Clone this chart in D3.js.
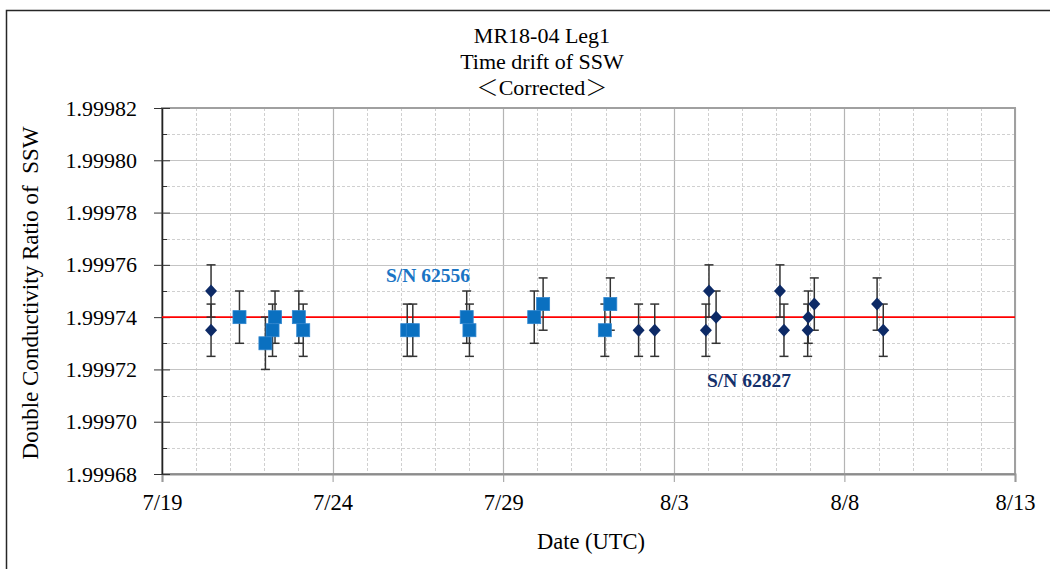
<!DOCTYPE html>
<html>
<head>
<meta charset="utf-8">
<script src="https://cdn.jsdelivr.net/npm/d3@7"></script>
<style>
  html, body { margin: 0; padding: 0; background: #fff; }
  svg { display: block; font-family: "Liberation Serif", "Times New Roman", serif; }
</style>
</head>
<body>
<div id="chart"></div>
<script>
// S/N 62556 (squares)
var sn62556Times = ['07-21 06:30', '07-22 00:45', '07-22 05:45', '07-22 07:30', '07-23 00:15', '07-23 03:20',
  '07-26 04:30', '07-26 08:25', '07-27 22:20', '07-28 00:15', '07-29 21:50', '07-30 04:05',
  '07-31 23:30', '08-01 03:20'];
var sn62556Values = [1.99974, 1.99973, 1.999735, 1.99974, 1.99974, 1.999735,
  1.999735, 1.999735, 1.99974, 1.999735, 1.99974, 1.999745,
  1.999735, 1.999745];
var sn62556Errors = [0.00001, 0.00001, 0.00001, 0.00001, 0.00001, 0.00001,
  0.00001, 0.00001, 0.00001, 0.00001, 0.00001, 0.00001,
  0.00001, 0.00001];

// S/N 62827 (diamonds)
var sn62827Times = ['07-20 10:30', '07-20 10:30', '08-01 23:15', '08-02 10:35', '08-03 22:35', '08-04 00:45',
  '08-04 05:45', '08-06 02:40', '08-06 05:30', '08-06 22:10', '08-06 22:35', '08-07 02:50',
  '08-08 23:00', '08-09 03:20'];
var sn62827Values = [1.99975, 1.999735, 1.999735, 1.999735, 1.999735, 1.99975,
  1.99974, 1.99975, 1.999735, 1.999735, 1.99974, 1.999745,
  1.999745, 1.999735];
var sn62827Errors = [0.00001, 0.00001, 0.00001, 0.00001, 0.00001, 0.00001,
  0.00001, 0.00001, 0.00001, 0.00001, 0.00001, 0.00001,
  0.00001, 0.00001];

var referenceValue = 1.99974;
var xDomain = ['07-19 00:00', '08-13 00:00'];
var yDomain = [1.99968, 1.99982];
var yMajorTicks = [1.99968, 1.99970, 1.99972, 1.99974, 1.99976, 1.99978, 1.99980, 1.99982];
var titleLines = ['MR18-04 Leg1', 'Time drift of SSW', '\uFF1CCorrected\uFF1E'];

var parse = function(s) { return d3.timeParse('%Y-%m-%d %H:%M')('2018-' + s); };

var W = 1050, H = 569;
var plotLeft = 162, plotRight = 1015, plotTop = 108, plotBottom = 474;

var svg = d3.select('#chart').append('svg')
  .attr('width', W)
  .attr('height', H);

// outer frame
svg.append('rect')
  .attr('x', 6.5).attr('y', 10.5)
  .attr('width', 1060).attr('height', 600)
  .style('fill', '#fff')
  .style('stroke', '#262626')
  .style('stroke-width', 1.5);

var x = d3.scaleTime().domain(xDomain.map(parse)).range([plotLeft, plotRight]);
var y = d3.scaleLinear().domain(yDomain).range([plotBottom, plotTop]);

var days = d3.timeDay.range(x.domain()[0], d3.timeDay.offset(x.domain()[1], 1));
var majorDays = days.filter(function(d, i) { return i % 5 == 0; });
var minorDays = days.filter(function(d, i) { return i % 5 != 0; });
var yMinorTicks = d3.range(0, 15).map(function(i) { return yDomain[0] + i * 0.00001; })
  .filter(function(v, i) { return i % 2 == 1; });

var grid = svg.append('g');
// minor grid (dashed)
grid.selectAll('.vminor').data(minorDays).enter().append('line')
  .attr('x1', function(d) { return Math.round(x(d)) + 0.5; })
  .attr('x2', function(d) { return Math.round(x(d)) + 0.5; })
  .attr('y1', plotTop).attr('y2', plotBottom)
  .style('stroke', '#d0d0d0').style('stroke-dasharray', '3,2').style('stroke-width', 1);
grid.selectAll('.hminor').data(yMinorTicks).enter().append('line')
  .attr('x1', plotLeft).attr('x2', plotRight)
  .attr('y1', function(d) { return Math.round(y(d)) + 0.5; })
  .attr('y2', function(d) { return Math.round(y(d)) + 0.5; })
  .style('stroke', '#d0d0d0').style('stroke-dasharray', '3,2').style('stroke-width', 1);
// major grid (solid)
grid.selectAll('.vmajor').data(majorDays).enter().append('line')
  .attr('x1', function(d) { return Math.round(x(d)) + 0.5; })
  .attr('x2', function(d) { return Math.round(x(d)) + 0.5; })
  .attr('y1', plotTop).attr('y2', plotBottom)
  .style('stroke', '#b4b4b4').style('stroke-width', 1.2);
grid.selectAll('.hmajor').data(yMajorTicks).enter().append('line')
  .attr('x1', plotLeft).attr('x2', plotRight)
  .attr('y1', function(d) { return Math.round(y(d)) + 0.5; })
  .attr('y2', function(d) { return Math.round(y(d)) + 0.5; })
  .style('stroke', '#c4c4c4').style('stroke-width', 1.2);

// plot border
svg.append('rect')
  .attr('x', plotLeft).attr('y', plotTop)
  .attr('width', plotRight - plotLeft).attr('height', plotBottom - plotTop)
  .style('fill', 'none').style('stroke', '#a0a0a0').style('stroke-width', 2);

// x axis
var xAxis = d3.axisBottom(x)
  .tickValues(majorDays)
  .tickFormat(d3.timeFormat('%-m/%-d'))
  .tickSize(8)
  .tickPadding(12);
var gx = svg.append('g').attr('transform', 'translate(0,' + plotBottom + ')').call(xAxis);
gx.select('.domain').style('stroke', '#8c8c8c').style('stroke-width', 2);
gx.selectAll('.tick line').style('stroke', '#9a9a9a');
gx.selectAll('.tick text').style('font-size', '22.5px').style('fill', '#000')
  .style('font-family', '"Liberation Serif", serif');

// y axis, minor ticks inside
svg.append('g').selectAll('line').data(yMinorTicks).enter().append('line')
  .attr('x1', plotLeft).attr('x2', plotLeft + 5)
  .attr('y1', function(d) { return Math.round(y(d)) + 0.5; })
  .attr('y2', function(d) { return Math.round(y(d)) + 0.5; })
  .style('stroke', '#333');
var yAxis = d3.axisLeft(y)
  .tickValues(yMajorTicks)
  .tickFormat(d3.format('.5f'))
  .tickSizeInner(8)
  .tickSizeOuter(0)
  .tickPadding(17);
var gy = svg.append('g').attr('transform', 'translate(' + plotLeft + ',0)').call(yAxis);
gy.select('.domain').style('stroke', '#222').style('stroke-width', 1.5);
gy.selectAll('.tick line').attr('x1', 8).style('stroke', '#333');
gy.selectAll('.tick text').style('font-size', '22px').style('fill', '#000')
  .style('font-family', '"Liberation Serif", serif');

// reference line
svg.append('line')
  .attr('x1', plotLeft).attr('x2', plotRight)
  .attr('y1', y(referenceValue)).attr('y2', y(referenceValue))
  .style('stroke', '#ff0000').style('stroke-width', 1.6);

function drawSeries(times, values, errors, color, shape) {
  var pts = times.map(function(t, i) { return { t: parse(t), v: values[i], e: errors[i] }; });
  var g = svg.append('g');
  var eb = g.selectAll('.eb').data(pts).enter().append('g').style('stroke', '#333').style('stroke-width', 1.5);
  eb.append('line')
    .attr('x1', function(d) { return x(d.t); }).attr('x2', function(d) { return x(d.t); })
    .attr('y1', function(d) { return y(d.v - d.e); }).attr('y2', function(d) { return y(d.v + d.e); });
  eb.append('line')
    .attr('x1', function(d) { return x(d.t) - 4.5; }).attr('x2', function(d) { return x(d.t) + 4.5; })
    .attr('y1', function(d) { return y(d.v + d.e); }).attr('y2', function(d) { return y(d.v + d.e); });
  eb.append('line')
    .attr('x1', function(d) { return x(d.t) - 4.5; }).attr('x2', function(d) { return x(d.t) + 4.5; })
    .attr('y1', function(d) { return y(d.v - d.e); }).attr('y2', function(d) { return y(d.v - d.e); });
  if(shape == 'square') {
    g.selectAll('.m').data(pts).enter().append('rect')
      .attr('x', function(d) { return x(d.t) - 6.5; })
      .attr('y', function(d) { return y(d.v) - 6.5; })
      .attr('width', 13).attr('height', 13)
      .style('fill', color).style('stroke', '#2f86cf').style('stroke-width', 0.8);
  } else {
    g.selectAll('.m').data(pts).enter().append('path')
      .attr('d', function(d) {
        var cx = x(d.t), cy = y(d.v);
        return 'M' + cx + ',' + (cy - 6.5) + 'L' + (cx + 6) + ',' + cy + 'L' + cx + ',' + (cy + 6.5) + 'L' + (cx - 6) + ',' + cy + 'Z';
      })
      .style('fill', color);
  }
}

drawSeries(sn62827Times, sn62827Values, sn62827Errors, '#0d2a66', 'diamond');
drawSeries(sn62556Times, sn62556Values, sn62556Errors, '#0a70c0', 'square');

// series labels
svg.append('text').attr('x', 386).attr('y', 282)
  .style('font-size', '19.5px').style('font-weight', 'bold').style('fill', '#1a74c4')
  .text('S/N 62556');
svg.append('text').attr('x', 707).attr('y', 387)
  .style('font-size', '19.5px').style('font-weight', 'bold').style('fill', '#14306b')
  .text('S/N 62827');

// title, full-width brackets drawn with a CJK font
var title = svg.append('g').selectAll('text').data(titleLines).enter().append('text')
  .attr('x', 542)
  .attr('y', function(d, i) { return 43 + i * 26; })
  .attr('text-anchor', 'middle')
  .style('font-size', '22px').style('fill', '#000');
title.each(function(d) {
  var t = d3.select(this);
  d.split(/([\uFF1C\uFF1E])/).filter(function(s) { return s.length; }).forEach(function(s) {
    var ts = t.append('tspan').text(s);
    if(/[\uFF1C\uFF1E]/.test(s)) ts.style('font-family', '"Noto Sans CJK JP", sans-serif').style('font-weight', 300);
  });
});

// axis titles
svg.append('text').attr('x', 591).attr('y', 549)
  .attr('text-anchor', 'middle')
  .style('font-size', '22.5px').style('fill', '#000')
  .text('Date (UTC)');
svg.append('text')
  .attr('transform', 'translate(38,293) rotate(-90)')
  .attr('text-anchor', 'middle')
  .style('font-size', '23px').style('fill', '#000')
  .style('white-space', 'pre')
  .text('Double Conductivity Ratio of  SSW');
</script>
</body>
</html>
